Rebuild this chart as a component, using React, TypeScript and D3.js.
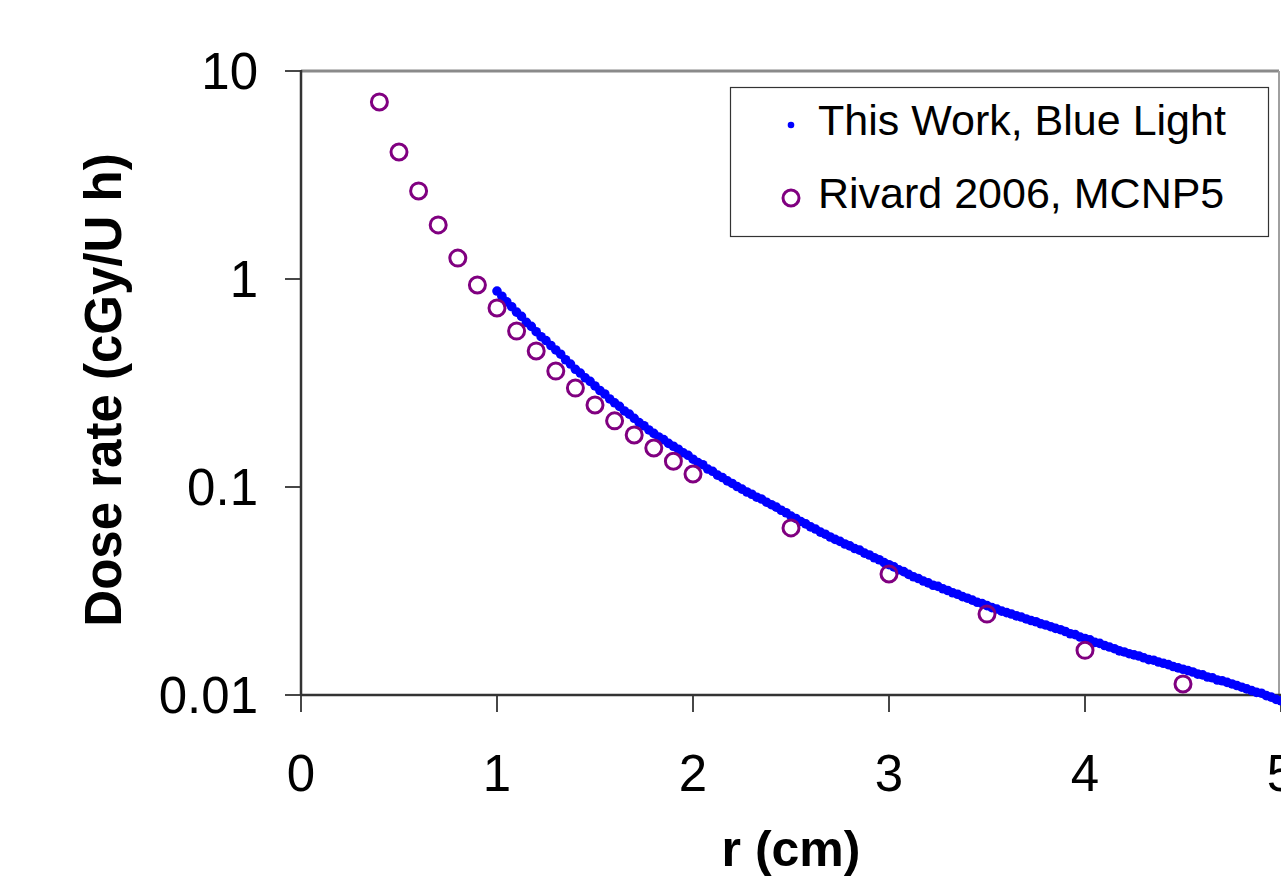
import React from "react";
import * as d3 from "d3";

// ---- data ----
const rivardR = [0.4, 0.5, 0.6, 0.7, 0.8, 0.9, 1.0, 1.1, 1.2, 1.3, 1.4, 1.5, 1.6, 1.7, 1.8, 1.9, 2.0, 2.5, 3.0, 3.5, 4.0, 4.5];
const rivardDose = [7.1, 4.08, 2.65, 1.82, 1.26, 0.936, 0.726, 0.562, 0.451, 0.361, 0.299, 0.248, 0.208, 0.178, 0.154, 0.133, 0.1155, 0.0636, 0.0382, 0.0245, 0.0164, 0.0113];

// "This Work, Blue Light": sampled every 0.025 cm starting at r = 1.0 cm
const blueStartR = 1.0;
const blueStepR = 0.025;
const blueDose = [
  0.875, 0.826, 0.776, 0.736, 0.693, 0.661, 0.619, 0.592, 0.558, 0.528, 0.506, 0.479, 0.456, 0.435, 0.409, 0.39, 0.368,
  0.353, 0.335, 0.322, 0.306, 0.291, 0.28, 0.265, 0.254, 0.244, 0.232, 0.224, 0.214, 0.204, 0.197, 0.188, 0.181,
  0.174, 0.169, 0.162, 0.157, 0.152, 0.146, 0.142, 0.136, 0.131, 0.128, 0.122, 0.119, 0.114, 0.111, 0.107, 0.104,
  0.1005, 0.0977, 0.0946, 0.0923, 0.0893, 0.0875, 0.0845, 0.0822, 0.08, 0.0773, 0.0752, 0.0724, 0.0706, 0.0682, 0.0665, 0.0643,
  0.0628, 0.0607, 0.0593, 0.0575, 0.056, 0.0548, 0.0532, 0.0521, 0.0506, 0.0497, 0.0481, 0.0471, 0.0457, 0.0447, 0.0433, 0.0423,
  0.0413, 0.04, 0.0392, 0.038, 0.037, 0.0363, 0.0353, 0.0346, 0.0337, 0.0333, 0.0324, 0.0318, 0.031, 0.0305, 0.0297, 0.0292,
  0.0286, 0.0279, 0.0275, 0.0269, 0.0263, 0.0259, 0.0253, 0.0249, 0.0245, 0.024, 0.0237, 0.0232, 0.0228, 0.0225, 0.022, 0.0217,
  0.0213, 0.0209, 0.0206, 0.0202, 0.0197, 0.0195, 0.019, 0.0187, 0.0184, 0.0179, 0.0177, 0.0173, 0.017, 0.0167, 0.0163, 0.0161,
  0.0158, 0.0156, 0.0154, 0.0151, 0.0148, 0.0147, 0.0144, 0.0142, 0.014, 0.0137, 0.0135, 0.0133, 0.0131, 0.0129, 0.0126, 0.0125,
  0.0122, 0.0121, 0.0118, 0.0117, 0.0115, 0.0113, 0.0111, 0.0109, 0.0107, 0.0105, 0.0103, 0.0102, 0.00993, 0.00977, 0.00953, 0.00938,
];

const xTicks = [0, 1, 2, 3, 4, 5];
const yTicks = [10, 1, 0.1, 0.01];
const yTickLabels = ["10", "1", "0.1", "0.01"];
const legendLabels = ["This Work, Blue Light", "Rivard 2006, MCNP5"];
const xTitle = "r (cm)";
const yTitle = "Dose rate (cGy/U h)";

const W = 1281;
const H = 878;
const FONT = "'Liberation Sans', Arial, Helvetica, sans-serif";

export default function App() {
  const x = d3.scaleLinear().domain([0, 5]).range([301, 1281]);
  const y = d3.scaleLog().domain([0.01, 10]).range([695, 71]);
  const [x0, x1] = x.range();
  const [yb, yt] = y.range();

  const blue = blueDose.map((v, i) => ({ r: blueStartR + i * blueStepR, v }));
  const rivard = rivardR.map((r, i) => ({ r, v: rivardDose[i] }));

  return (
    <svg
      width={W}
      height={H}
      style={{ position: "absolute", left: 0, top: 0, display: "block", background: "#fff" }}
      fontFamily={FONT}
    >
      <rect x={0} y={0} width={W} height={H} fill="#fff" />
      {/* plot border */}
      <line x1={x0} x2={x1 - 2} y1={yt} y2={yt} stroke="#8a8a8a" strokeWidth={3} />
      <line x1={x1 - 2} x2={x1 - 2} y1={yt} y2={yb} stroke="#a0a0a0" strokeWidth={2} />
      {/* axes */}
      <line x1={x0} x2={x0} y1={yt - 1} y2={yb} stroke="#333" strokeWidth={2.5} />
      <line x1={x0} x2={x1} y1={yb} y2={yb} stroke="#333" strokeWidth={2.5} />
      {yTicks.map((t, i) => (
        <g key={"yt" + i}>
          <line x1={x0 - 16} x2={x0} y1={y(t)} y2={y(t)} stroke="#333" strokeWidth={1.8} />
          <text x={258} y={y(t) + 18} textAnchor="end" fontSize={51} fill="#000">
            {yTickLabels[i]}
          </text>
        </g>
      ))}
      {xTicks.map((t, i) => (
        <g key={"xt" + i}>
          <line x1={x(t)} x2={x(t)} y1={yb} y2={yb + 17} stroke="#333" strokeWidth={1.8} />
          <text x={x(t)} y={791} textAnchor="middle" fontSize={51} fill="#000">
            {String(t)}
          </text>
        </g>
      ))}
      {/* series */}
      {blue.map((d, i) => (
        <circle key={"b" + i} cx={x(d.r)} cy={y(d.v)} r={4.8} fill="#0000ff" />
      ))}
      {rivard.map((d, i) => (
        <circle key={"p" + i} cx={x(d.r)} cy={y(d.v)} r={8} fill="none" stroke="#800080" strokeWidth={3} />
      ))}
      {/* legend */}
      <rect x={730.5} y={87.5} width={538} height={149} fill="#fff" stroke="#333" strokeWidth={1.2} />
      <circle cx={791} cy={125} r={3.3} fill="#0000ff" />
      <text x={818} y={135} fontSize={43} fill="#000">{legendLabels[0]}</text>
      <circle cx={791} cy={198} r={8} fill="none" stroke="#800080" strokeWidth={3} />
      <text x={818} y={208} fontSize={43} fill="#000">{legendLabels[1]}</text>
      {/* axis titles */}
      <text x={791} y={866} textAnchor="middle" fontSize={50} fontWeight="bold" fill="#000">
        {xTitle}
      </text>
      <text
        transform={`translate(121, 390) rotate(-90)`}
        textAnchor="middle"
        fontSize={51}
        fontWeight="bold"
        fill="#000"
      >
        {yTitle}
      </text>
    </svg>
  );
}
